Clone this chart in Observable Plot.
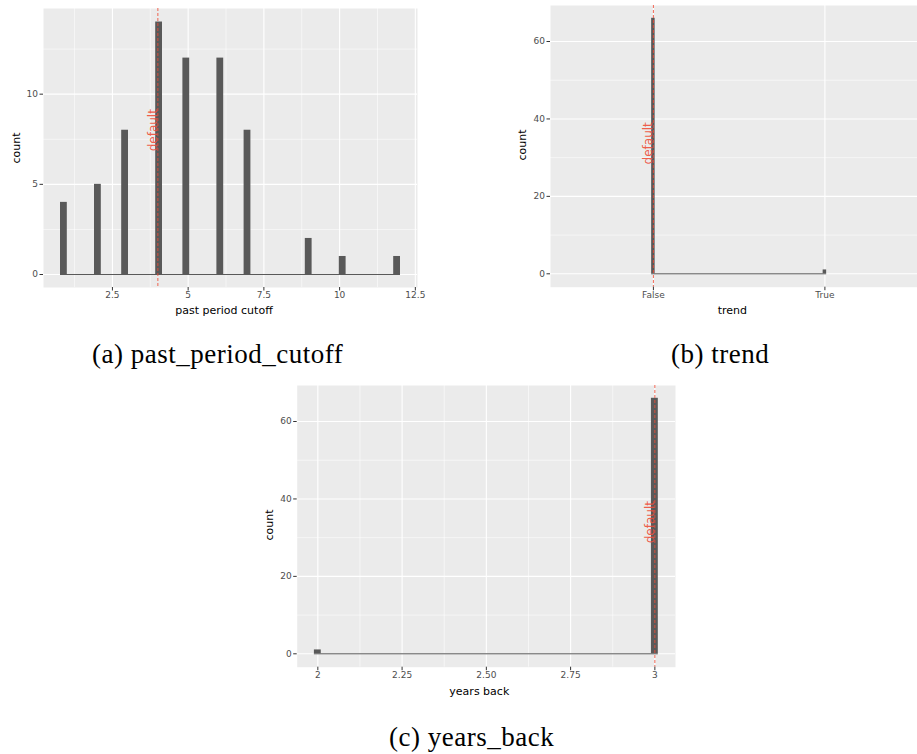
<!DOCTYPE html>
<html>
<head>
<meta charset="utf-8">
<script src="https://cdn.jsdelivr.net/npm/d3@7"></script>
<script src="https://cdn.jsdelivr.net/npm/@observablehq/plot@0.6"></script>
<style>
  html, body { margin: 0; padding: 0; background: #fff; }
  body { width: 917px; height: 754px; position: relative; overflow: hidden; font-family: "DejaVu Sans", sans-serif; }
  .panel { position: absolute; }
  .title { position: absolute; font-size: 11px; color: #000; white-space: nowrap; transform: translate(-50%, -50%); }
  .title.rot { transform: translate(-50%, -50%) rotate(-90deg); }
  .cap { position: absolute; font-family: "Liberation Serif", serif; font-size: 27px; letter-spacing: 0.5px; color: #000; white-space: nowrap; line-height: 27px; }
</style>
</head>
<body>
<script>
// past_period_cutoff: value -> number of runs
const cutoffValues = [1, 2, 3, 4, 5, 6, 7, 9, 10, 12];
const cutoffCounts = [4, 5, 8, 14, 12, 12, 8, 2, 1, 1];
const cutoffDefault = 4;
const cutoffTicks = [2.5, 5, 7.5, 10, 12.5];
const cutoffTickLabels = ["2.5", "5", "7.5", "10", "12.5"];
const cutoffMinorX = [1.25, 3.75, 6.25, 8.75, 11.25];
const cutoffYTicks = [0, 5, 10];
const cutoffMinorY = [2.5, 7.5, 12.5];

// trend: boolean categories
const trendValues = ["False", "True"];
const trendCounts = [66, 1];
const trendDefault = "False";

// years_back
const yearsValues = [2, 3];
const yearsCounts = [1, 66];
const yearsDefault = 3;
const yearsTicks = [2, 2.25, 2.5, 2.75, 3];
const yearsTickLabels = ["2", "2.25", "2.50", "2.75", "3"];
const yearsMinorX = [2.125, 2.375, 2.625, 2.875];

const countYTicks = [0, 20, 40, 60];
const countMinorY = [10, 30, 50];

const BINS = 50;
const BAR = "#595959";
const RED = "#ee4b36";

// Histogram bin edges over the data range (50 bins, half-width boundary)
function binEdges(xs) {
  const lo = d3.min(xs), hi = d3.max(xs);
  const width = (hi - lo) / (BINS - 1);
  const boundary = width / 2;
  const origin = boundary + Math.floor((lo - boundary) / width) * width;
  return {origin, width, last: origin + BINS * width};
}

function histPanel(cfg) {
  const {origin, width, last} = binEdges(cfg.x);
  const rows = cfg.x.map((x, i) => {
    const k = Math.min(BINS - 1, Math.floor((x - origin) / width));
    return {x1: origin + k * width, x2: origin + (k + 1) * width, c: cfg.counts[i]};
  });
  const pad = (last - origin) * 0.05;
  const xDomain = cfg.xDomain || [origin - pad, last + pad];
  const fmt = new Map(cfg.xTicks.map((t, i) => [t, cfg.xTickLabels[i]]));
  const svg = Plot.plot({
    width: cfg.width,
    height: cfg.height,
    marginLeft: cfg.margin[3],
    marginRight: cfg.margin[1],
    marginTop: cfg.margin[0],
    marginBottom: cfg.margin[2],
    x: {domain: xDomain},
    y: {domain: cfg.yDomain},
    style: {fontFamily: "DejaVu Sans", background: "transparent", overflow: "visible"},
    marks: [
      Plot.frame({fill: "#ebebeb", stroke: null}),
      Plot.ruleX(cfg.xMinor, {stroke: "#fff", strokeWidth: 0.55}),
      Plot.ruleY(cfg.yMinor, {stroke: "#fff", strokeWidth: 0.55}),
      Plot.ruleX(cfg.xTicks, {stroke: "#fff", strokeWidth: 1.1}),
      Plot.ruleY(cfg.yTicks, {stroke: "#fff", strokeWidth: 1.1}),
      Plot.ruleY([0], {x1: origin, x2: last, stroke: BAR, strokeWidth: 1}),
      Plot.rect(rows, {x1: "x1", x2: "x2", y1: 0, y2: "c", fill: BAR}),
      Plot.ruleX([cfg.defaultX], {stroke: RED, strokeOpacity: 0.85, strokeWidth: 1, strokeDasharray: "3,2"}),
      Plot.text(["default"], {x: cfg.defaultX, y: cfg.labelY, rotate: -90, fill: RED, fillOpacity: 0.9, fontSize: 12, dx: -4.8}),
      Plot.axisX(cfg.xTicks, {tickSize: 3.5, tickPadding: 1, fontSize: 9, stroke: "#333", fill: "#4d4d4d", tickFormat: d => fmt.get(d), label: null}),
      Plot.axisY(cfg.yTicks, {tickSize: 3.5, tickPadding: 2, fontSize: 9, stroke: "#333", fill: "#4d4d4d", label: null})
    ]
  });
  svg.classList.add("panel");
  svg.style.left = cfg.left + "px";
  svg.style.top = cfg.top + "px";
  document.body.appendChild(svg);
}

function title(text, x, y, rotated) {
  const el = document.createElement("div");
  el.className = "title" + (rotated ? " rot" : "");
  el.textContent = text;
  el.style.left = x + "px";
  el.style.top = y + "px";
  document.body.appendChild(el);
}

function caption(text, x, y) {
  const el = document.createElement("div");
  el.className = "cap";
  el.textContent = text;
  el.style.left = x + "px";
  el.style.top = y + "px";
  document.body.appendChild(el);
}

// (a) past_period_cutoff
histPanel({
  left: 0, top: 0, width: 430, height: 330, margin: [8, 13, 43, 43],
  x: cutoffValues, counts: cutoffCounts,
  yDomain: [-0.72, 14.75],
  xTicks: cutoffTicks, xTickLabels: cutoffTickLabels, xMinor: cutoffMinorX,
  yTicks: cutoffYTicks, yMinor: cutoffMinorY,
  defaultX: cutoffDefault, labelY: 8
});
title("count", 16, 147.5, true);
title("past period cutoff", 224, 310);
caption("(a) past_period_cutoff", 92, 341);

// (b) trend — categories placed at integer positions
const trendX = trendValues.map((_, i) => i);
histPanel({
  left: 500, top: 0, width: 417, height: 330, margin: [5, 0, 43.3, 50],
  x: trendX, counts: trendCounts,
  xDomain: [-0.6, 1.54], yDomain: [-3.46, 69.3],
  xTicks: trendX, xTickLabels: trendValues, xMinor: [],
  yTicks: countYTicks, yMinor: countMinorY,
  defaultX: trendValues.indexOf(trendDefault), labelY: 33.7
});
title("count", 521.7, 145, true);
title("trend", 732.3, 310);
caption("(b) trend", 671, 341);

// (c) years_back
histPanel({
  left: 250, top: 380, width: 440, height: 320, margin: [5, 15, 33.3, 46.7],
  x: yearsValues, counts: yearsCounts,
  yDomain: [-3.46, 69.3],
  xTicks: yearsTicks, xTickLabels: yearsTickLabels, xMinor: yearsMinorX,
  yTicks: countYTicks, yMinor: countMinorY,
  defaultX: yearsDefault, labelY: 34
});
title("count", 269, 525, true);
title("years back", 479.3, 690.7);
caption("(c) years_back", 389, 724);
</script>
</body>
</html>
